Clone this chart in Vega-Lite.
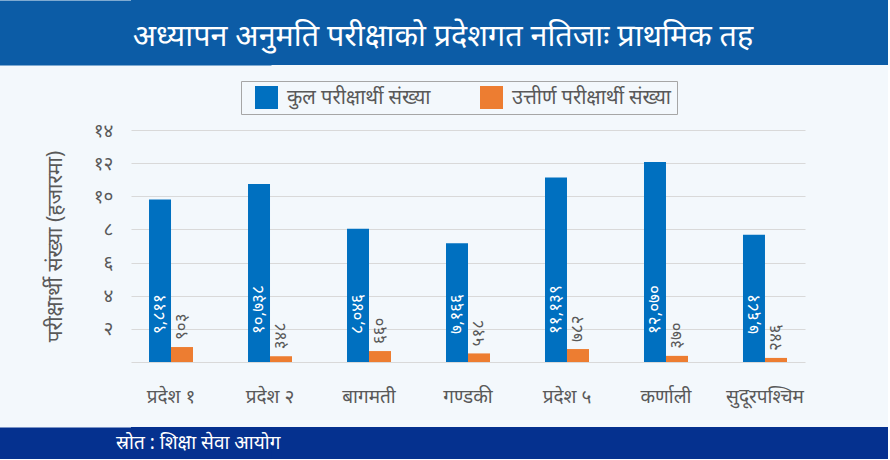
{
  "$schema": "https://vega.github.io/schema/vega-lite/v6.json",
  "background": "#f3f8fc",
  "padding": 0,
  "spacing": 15,
  "resolve": {"legend": {"color": "independent"}, "scale": {"color": "independent", "y": "independent"}},
  "config": {"font": "Noto Sans", "view": {"stroke": null}},
  "vconcat": [
    {
      "width": 757,
      "height": 65,
      "view": {"fill": "#0c5ca6", "stroke": null},
      "data": {"values": [{"title": "अध्यापन अनुमति परीक्षाको प्रदेशगत नतिजाः प्राथमिक तह"}]},
      "mark": {"type": "text", "color": "white", "fontSize": 30.5, "align": "center", "baseline": "middle", "dy": 4, "dx": -66.5},
      "encoding": {
        "y": {"datum": 0.5, "type": "quantitative", "scale": {"domain": [0, 1]},
          "axis": {"title": " ", "titleFontSize": 8, "titlePadding": 123, "labels": false, "ticks": false, "grid": false, "domain": true, "domainColor": "#0c5ca6", "domainWidth": 280, "domainCap": "butt", "zindex": 0}},
        "text": {"field": "title"}
      }
    },
    {
      "width": 674,
      "height": 232,
      "data": {"values": [
        {"region": "प्रदेश १", "series": "कुल परीक्षार्थी संख्या", "value": 9811, "label": "९,८११"},
        {"region": "प्रदेश १", "series": "उत्तीर्ण परीक्षार्थी संख्या", "value": 903, "label": "९०३"},
        {"region": "प्रदेश २", "series": "कुल परीक्षार्थी संख्या", "value": 10738, "label": "१०,७३८"},
        {"region": "प्रदेश २", "series": "उत्तीर्ण परीक्षार्थी संख्या", "value": 348, "label": "३४८"},
        {"region": "बागमती", "series": "कुल परीक्षार्थी संख्या", "value": 8046, "label": "८,०४६"},
        {"region": "बागमती", "series": "उत्तीर्ण परीक्षार्थी संख्या", "value": 660, "label": "६६०"},
        {"region": "गण्डकी", "series": "कुल परीक्षार्थी संख्या", "value": 7166, "label": "७,१६६"},
        {"region": "गण्डकी", "series": "उत्तीर्ण परीक्षार्थी संख्या", "value": 518, "label": "५१८"},
        {"region": "प्रदेश ५", "series": "कुल परीक्षार्थी संख्या", "value": 11139, "label": "११,१३९"},
        {"region": "प्रदेश ५", "series": "उत्तीर्ण परीक्षार्थी संख्या", "value": 782, "label": "७८२"},
        {"region": "कर्णाली", "series": "कुल परीक्षार्थी संख्या", "value": 12070, "label": "१२,०७०"},
        {"region": "कर्णाली", "series": "उत्तीर्ण परीक्षार्थी संख्या", "value": 370, "label": "३७०"},
        {"region": "सुदूरपश्चिम", "series": "कुल परीक्षार्थी संख्या", "value": 7681, "label": "७,६८१"},
        {"region": "सुदूरपश्चिम", "series": "उत्तीर्ण परीक्षार्थी संख्या", "value": 246, "label": "२४६"}
      ]},
      "encoding": {
        "x": {
          "field": "region", "type": "nominal", "sort": null,
          "scale": {"paddingInner": 0.5556, "paddingOuter": 0.182},
          "axis": {"title": " ", "titleFontSize": 2, "titlePadding": 4, "labelAngle": 0, "ticks": false, "domain": false, "grid": false, "labelPadding": 25, "labelFontSize": 19, "labelColor": "#595959"}
        },
        "xOffset": {"field": "series", "type": "nominal", "sort": ["कुल परीक्षार्थी संख्या", "उत्तीर्ण परीक्षार्थी संख्या"], "scale": {"paddingInner": 0, "paddingOuter": 0}}
      },
      "layer": [
        {
          "mark": {"type": "bar"},
          "encoding": {
            "y": {
              "field": "value", "type": "quantitative",
              "scale": {"domain": [0, 14000], "nice": false},
              "axis": {
                "title": "परीक्षार्थी संख्या (हजारमा)",
                "values": [0, 2000, 4000, 6000, 8000, 10000, 12000, 14000],
                "tickCount": 10,
                "labelOverlap": false,
                "labelExpr": "datum.value == 0 ? '' : datum.value == 2000 ? '२' : datum.value == 4000 ? '४' : datum.value == 6000 ? '६' : datum.value == 8000 ? '८' : datum.value == 10000 ? '१०' : datum.value == 12000 ? '१२' : '१४'",
                "domain": false, "ticks": false, "gridColor": "#d9d9d9",
                "labelPadding": 18, "labelFontSize": 19, "labelColor": "#595959",
                "titleFontSize": 21, "titleColor": "#595959", "titleFontWeight": "normal", "titlePadding": 28
              }
            },
            "color": {
              "field": "series", "type": "nominal",
              "sort": ["कुल परीक्षार्थी संख्या", "उत्तीर्ण परीक्षार्थी संख्या"],
              "scale": {"range": ["#0070c0", "#ed7d31"]},
              "legend": {
                "title": null, "orient": "none", "legendX": 110, "legendY": -49,
                "direction": "horizontal", "symbolType": "square", "symbolSize": 529,
                "symbolStrokeWidth": 0, "symbolOffset": 9, "labelOffset": 9,
                "labelFontSize": 20, "labelColor": "#595959", "columnPadding": 40,
                "padding": 5, "strokeColor": "#a6a6a6", "fillColor": "#f3f8fc"
              }
            }
          }
        },
        {
          "transform": [{"filter": "datum.series === 'कुल परीक्षार्थी संख्या'"}],
          "mark": {"type": "text", "angle": 270, "align": "left", "baseline": "middle", "dx": 28, "color": "white", "fontSize": 17},
          "encoding": {"y": {"datum": 0, "type": "quantitative"}, "text": {"field": "label"}}
        },
        {
          "transform": [{"filter": "datum.series === 'उत्तीर्ण परीक्षार्थी संख्या'"}],
          "mark": {"type": "text", "angle": 270, "align": "left", "baseline": "middle", "dx": 7, "color": "#595959", "fontSize": 17},
          "encoding": {"y": {"field": "value", "type": "quantitative"}, "text": {"field": "label"}}
        }
      ]
    },
    {
      "width": 757,
      "height": 32,
      "view": {"fill": "#05318f", "stroke": null},
      "data": {"values": [{"source": "स्रोत : शिक्षा सेवा आयोग"}]},
      "mark": {"type": "text", "color": "white", "fontSize": 19, "align": "left", "baseline": "middle", "dx": -393.5},
      "encoding": {
        "y": {"datum": 0.5, "type": "quantitative", "scale": {"domain": [0, 1]},
          "axis": {"title": " ", "titleFontSize": 8, "titlePadding": 123, "labels": false, "ticks": false, "grid": false, "domain": true, "domainColor": "#05318f", "domainWidth": 280, "domainCap": "butt", "zindex": 0}},
        "text": {"field": "source"}
      }
    }
  ]
}
